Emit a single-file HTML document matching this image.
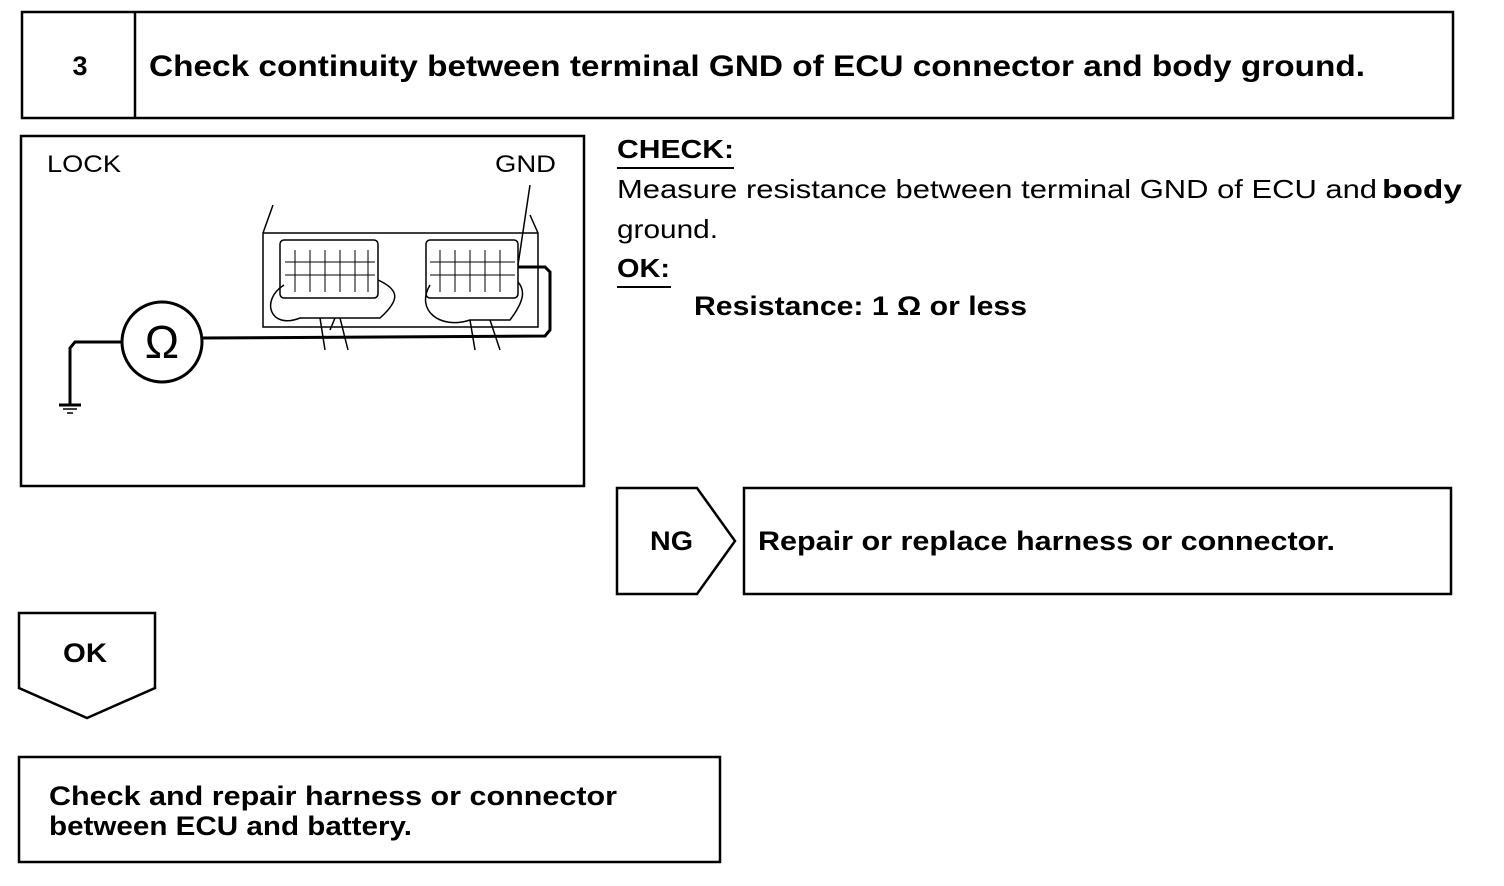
<!DOCTYPE html>
<html><head><meta charset="utf-8"><style>
html,body{margin:0;padding:0;background:#fff;}
svg{display:block;}
text{font-family:"Liberation Sans",Arial,sans-serif;fill:#000;}
.b{font-weight:bold;}
</style></head><body>
<svg width="1504" height="886" viewBox="0 0 1504 886" xmlns="http://www.w3.org/2000/svg">
<g fill="none" stroke="#000" stroke-width="2.5">
<rect x="22" y="12" width="1431" height="106"/>
<line x1="135" y1="12" x2="135" y2="118"/>
<rect x="21" y="136" width="563" height="350"/>
<polygon points="617,488 697,488 735,541 697,594 617,594"/>
<rect x="744" y="488" width="707" height="106"/>
<polygon points="19,613 155,613 155,688 87,718 19,688"/>
<rect x="19" y="757" width="701" height="105"/>
</g>
<text x="80" y="75" class="b" font-size="27" text-anchor="middle">3</text>
<text x="149" y="76" class="b" font-size="30" textLength="1216" lengthAdjust="spacingAndGlyphs">Check continuity between terminal GND of ECU connector and body ground.</text>

<!-- diagram -->
<text x="47" y="172" font-size="24" textLength="74" lengthAdjust="spacingAndGlyphs">LOCK</text>
<text x="495" y="172" font-size="24" textLength="61" lengthAdjust="spacingAndGlyphs">GND</text>
<g fill="none" stroke="#000" stroke-width="1.5">
<polyline points="273,205 263,233 263,327 538,327 538,233 530,215"/>
<line x1="263" y1="233" x2="538" y2="233"/>
<rect x="280" y="240" width="98" height="58" rx="4"/>
<rect x="426" y="240" width="92" height="58" rx="4"/>
<path d="M284,285 C260,300 270,330 300,318 L380,318 C400,300 400,290 378,280"/>
<path d="M430,285 C415,310 440,330 470,320 L510,320 C525,300 525,290 518,282"/>
<path d="M320,318 L325,350 M335,318 L330,330 M340,318 L348,350 M470,320 L475,350 M490,320 L500,350"/>
<line x1="530" y1="185" x2="518" y2="265"/>
<g stroke-width="1">
<line x1="285" y1="262" x2="375" y2="262"/><line x1="285" y1="275" x2="375" y2="275"/>
<line x1="430" y1="262" x2="515" y2="262"/><line x1="430" y1="275" x2="515" y2="275"/>
<line x1="295" y1="250" x2="295" y2="292"/><line x1="310" y1="250" x2="310" y2="292"/><line x1="325" y1="250" x2="325" y2="292"/><line x1="340" y1="250" x2="340" y2="292"/><line x1="355" y1="250" x2="355" y2="292"/><line x1="368" y1="250" x2="368" y2="292"/>
<line x1="440" y1="250" x2="440" y2="292"/><line x1="455" y1="250" x2="455" y2="292"/><line x1="470" y1="250" x2="470" y2="292"/><line x1="485" y1="250" x2="485" y2="292"/><line x1="500" y1="250" x2="500" y2="292"/>
</g>
</g>
<g fill="none" stroke="#000" stroke-width="3">
<circle cx="162" cy="342" r="40"/>
<polyline points="202,338 545,336 550,330 550,272 545,267 518,267"/>
<polyline points="122,342 75,342 70,348 70,405"/>
<line x1="59" y1="405" x2="81" y2="405"/>
</g>
<line x1="63" y1="409" x2="77" y2="409" stroke="#000" stroke-width="1.5"/>
<line x1="67" y1="413" x2="73" y2="413" stroke="#000" stroke-width="1.5"/>
<text x="162" y="358" font-size="46" text-anchor="middle">Ω</text>

<!-- right text -->
<text x="617" y="158" class="b" font-size="26" textLength="117" lengthAdjust="spacingAndGlyphs">CHECK:</text>
<line x1="617" y1="168" x2="734" y2="168" stroke="#000" stroke-width="2"/>
<text x="617" y="198" font-size="26" textLength="760" lengthAdjust="spacingAndGlyphs">Measure resistance between terminal GND of ECU and</text>
<text x="1382" y="198" class="b" font-size="26" textLength="80" lengthAdjust="spacingAndGlyphs">body</text>
<text x="617" y="238" font-size="26" textLength="101" lengthAdjust="spacingAndGlyphs">ground.</text>
<text x="617" y="277" class="b" font-size="26" textLength="53" lengthAdjust="spacingAndGlyphs">OK:</text>
<line x1="617" y1="287" x2="671" y2="287" stroke="#000" stroke-width="2"/>
<text x="694" y="315" class="b" font-size="27" textLength="333" lengthAdjust="spacingAndGlyphs">Resistance: 1 Ω or less</text>

<text x="650" y="550" class="b" font-size="27" textLength="43" lengthAdjust="spacingAndGlyphs">NG</text>
<text x="758" y="550" class="b" font-size="27" textLength="577" lengthAdjust="spacingAndGlyphs">Repair or replace harness or connector.</text>
<text x="63" y="662" class="b" font-size="27" textLength="44" lengthAdjust="spacingAndGlyphs">OK</text>
<text x="49" y="805" class="b" font-size="27" textLength="568" lengthAdjust="spacingAndGlyphs">Check and repair harness or connector</text>
<text x="49" y="835" class="b" font-size="27" textLength="363" lengthAdjust="spacingAndGlyphs">between ECU and battery.</text>
</svg>
</body></html>
